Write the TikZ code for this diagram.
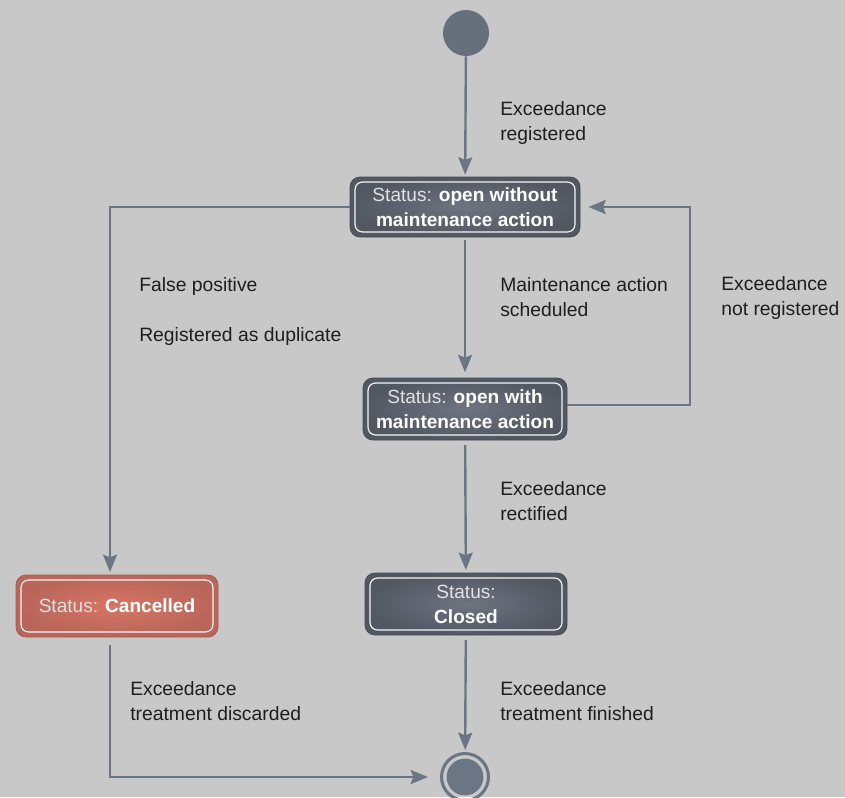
\documentclass[tikz,border=0pt]{standalone}
\usepackage{fontspec}
\setmainfont{Liberation Sans}
\usetikzlibrary{arrows.meta}

\definecolor{bg}{HTML}{C8C8C8}
\definecolor{wire}{HTML}{6B7684}
\definecolor{slate}{HTML}{525862}
\definecolor{slatelight}{HTML}{6E7480}
\definecolor{brick}{HTML}{B8655A}
\definecolor{bricklight}{HTML}{D87564}
\definecolor{ink}{HTML}{1E1E1E}

\newcommand{\lblfont}{\fontsize{14.5pt}{18.75pt}\selectfont}
\newcommand{\boxfont}{\fontsize{14.3pt}{18.75pt}\selectfont}
\newcommand{\stat}{\textcolor{white!82!slate}{Status:}}

\tikzset{
  statebox/.style={rounded corners=7.5pt, minimum width=151.5pt, minimum height=46.5pt,
    inner sep=0pt, align=center, text=white, font=\boxfont,
    inner color=slatelight, outer color=slate, draw=slate!85!black, line width=0.6pt,
    path picture={\draw[white!92!gray, line width=0.9pt, rounded corners=5.5pt]
      ([shift={(3.8pt,3.8pt)}]path picture bounding box.south west) rectangle
      ([shift={(-3.8pt,-3.8pt)}]path picture bounding box.north east);}},
  redbox/.style={statebox, inner color=bricklight, outer color=brick, draw=brick!90!black},
  label/.style={anchor=west, align=left, inner sep=0pt, text=ink, font=\lblfont},
  flow/.style={draw=wire, line width=1.8pt, -{Stealth[length=13pt,width=10.5pt,inset=2pt]}},
}

\begin{document}
\begin{tikzpicture}[x=0.75pt, y=-0.75pt]
    \useasboundingbox[fill=bg] (0,0) rectangle (845,797);

    % states
    \node[circle, fill=wire!95!black, minimum size=34.5pt, inner sep=0pt] (init) at (466,33) {};
    \node[statebox, minimum width=172.5pt, minimum height=45pt] (open1) at (465,207)
        {\stat{} \textbf{open without}\\\textbf{maintenance action}};
    \node[statebox, minimum width=153pt] (open2) at (465,409)
        {\stat{} \textbf{open with}\\\textbf{maintenance action}};
    \node[redbox] (cancel) at (117,606) {\stat{} \textbf{Cancelled}};
    \node[statebox] (closed) at (466,604) {\stat\\\textbf{Closed}};
    \node[circle, draw=wire, line width=2.3pt, minimum size=35.2pt, inner sep=0pt,
        path picture={\fill[wire] (path picture bounding box.center) circle (13.8pt);}]
        (final) at (465,777) {};

    % corners of the loop back
    \coordinate (loop_1) at (690,405);
    \coordinate (loop_2) at (690,207);

    % transitions
    \draw[flow, shorten >=1.5pt] (init) -- (open1);
    \draw[flow, shorten >=2pt] (open1.west) -| ([xshift=-5.25pt]cancel.north);
    \draw[flow, shorten <=2pt, shorten >=4pt] (open1) -- (open2);
    \draw[flow, shorten >=6pt] (open2.east |- loop_1) -- (loop_1) -- (loop_2) -- (open1.east |- loop_2);
    \draw[flow, shorten <=3.5pt, shorten >=2pt] (open2) -- (closed);
    \draw[flow, shorten <=3.5pt, shorten >=1.5pt] (closed) -- (final);
    \draw[flow, shorten <=6pt, shorten >=9pt] ([xshift=-5.25pt]cancel.south) |- (final.west);

    % labels
    \node[label] (lbl_reg) at (500,122.5) {Exceedance\\registered};
    \node[label] (lbl_false) at (139,286) {False positive};
    \node[label] (lbl_dup) at (139,336) {Registered as duplicate};
    \node[label] (lbl_sched) at (500,297.5) {Maintenance action\\scheduled};
    \node[label] (lbl_notreg) at (721,297.5) {Exceedance\\not registered};
    \node[label] (lbl_rect) at (500,501.5) {Exceedance\\rectified};
    \node[label] (lbl_disc) at (130,701.5) {Exceedance\\treatment discarded};
    \node[label] (lbl_fin) at (500,701.5) {Exceedance\\treatment finished};
\end{tikzpicture}
\end{document}
